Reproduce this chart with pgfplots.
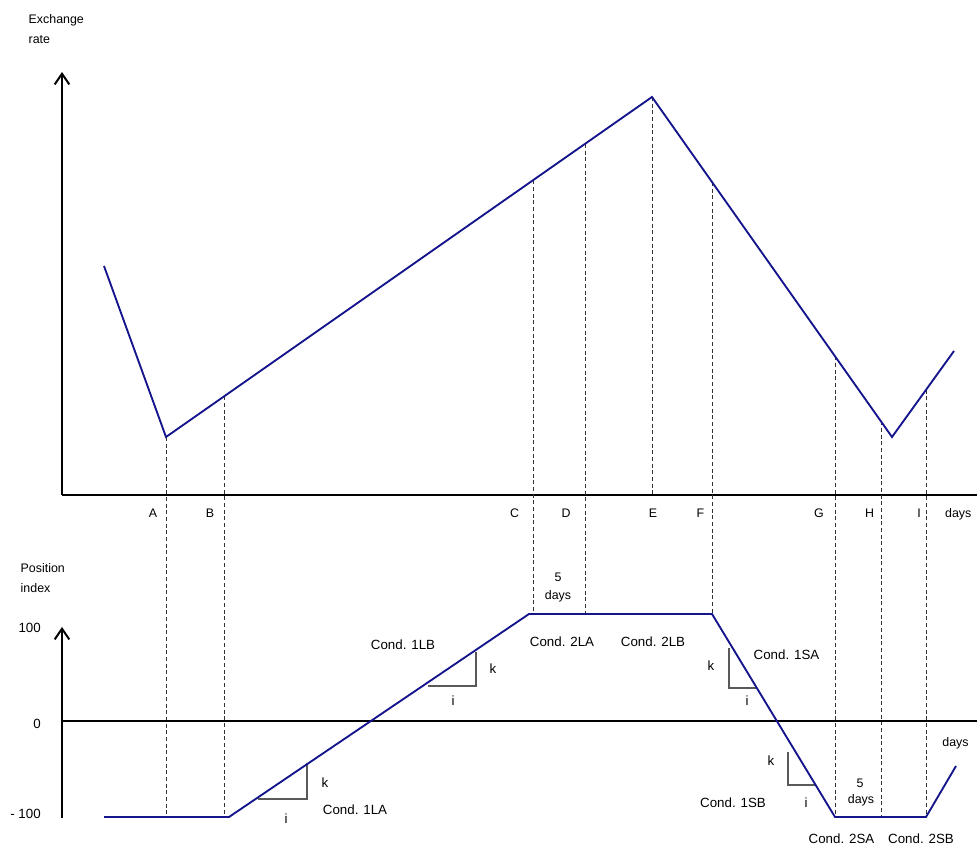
\documentclass[border=0pt]{standalone}
\usepackage{fontspec}
\setmainfont{Liberation Sans}
\usepackage{pgfplots}
\pgfplotsset{compat=1.18}
\usetikzlibrary{arrows.meta}
\definecolor{rateblue}{RGB}{20,20,140}
\newcommand{\fa}{\fontsize{10}{12}\selectfont}
\newcommand{\fb}{\fontsize{9.3}{11}\selectfont}

\begin{document}
\begin{tikzpicture}
\useasboundingbox (0,0) rectangle (732.75pt,633.75pt);

% exchange rate
\begin{axis}[
  at={(46.5pt,262.5pt)}, anchor=south west,
  x=0.75pt, y=0.75pt,
  xmin=0, xmax=928, ymin=0, ymax=423,
  axis lines=left,
  x axis line style={line width=1.5pt, -{Straight Barb[length=8pt,width=11pt]}},
  y axis line style={line width=1.5pt, -{Straight Barb[length=8pt,width=11pt]}},
  xtick={91,148,452.5,504,591,638.5,757,807.5,857},
  xticklabels={A,B,C,D,E,F,G,H,I},
  ytick=\empty, major tick length=0pt,
  xticklabel style={font=\fb, anchor=base, yshift=-17.25pt},
  clip=false,
]
% dashed guides
\addplot[black!80, line width=0.75pt, dash pattern=on 3pt off 2pt] coordinates {(104,58) (104,-322)};
\addplot[black!80, line width=0.75pt, dash pattern=on 3pt off 2pt] coordinates {(162,98.6) (162,-322)};
\addplot[black!80, line width=0.75pt, dash pattern=on 3pt off 2pt] coordinates {(471,314.8) (471,-119)};
\addplot[black!80, line width=0.75pt, dash pattern=on 3pt off 2pt] coordinates {(523,351.1) (523,-119)};
\addplot[black!80, line width=0.75pt, dash pattern=on 3pt off 2pt] coordinates {(590,398) (590,0)};
\addplot[black!80, line width=0.75pt, dash pattern=on 3pt off 2pt] coordinates {(650,313) (650,-119)};
\addplot[black!80, line width=0.75pt, dash pattern=on 3pt off 2pt] coordinates {(773,138.7) (773,-322)};
\addplot[black!80, line width=0.75pt, dash pattern=on 3pt off 2pt] coordinates {(819,73.6) (819,-322)};
\addplot[black!80, line width=0.75pt, dash pattern=on 3pt off 2pt] coordinates {(864,105.2) (864,-322)};
% rate
\addplot[rateblue, line width=1.4pt] coordinates {(42,229) (104,58) (590,398) (830,58) (892,144)};

\node[anchor=base west, font=\fb] at (-38,471.5) {Exchange};
\node[anchor=base west, font=\fb] at (-38,451) {rate};
\node[anchor=base east, font=\fb] at (914,-23) {days};
\end{axis}

% position index
\begin{axis}[
  at={(46.5pt,20.25pt)}, anchor=south west,
  x=0.75pt, y=0.75pt,
  xmin=0, xmax=928, ymin=-97, ymax=94,
  axis x line=middle, axis y line=left,
  x axis line style={line width=1.5pt, -{Straight Barb[length=8pt,width=11pt]}},
  y axis line style={line width=1.5pt, -{Straight Barb[length=8pt,width=11pt]}},
  xtick=\empty,
  ytick={-93,-3,93}, yticklabels={- 100,0,100},
  major tick length=0pt,
  yticklabel style={font=\fa, anchor=east, xshift=-12.4pt},
  clip=false,
]
% slope triangles
\addplot[black!65, line width=0.8pt] coordinates {(196,-78) (245,-78) (245,-42)};
\addplot[black!65, line width=0.8pt] coordinates {(366,35) (414,35) (414,69)};
\addplot[black!65, line width=0.8pt] coordinates {(667,73) (667,33) (694,33)};
\addplot[black!65, line width=0.8pt] coordinates {(726,-31) (726,-64) (753,-64)};
% position
\addplot[rateblue, line width=1.4pt] coordinates {(42,-96) (167,-96) (467,107) (650,107) (773,-96) (864,-96) (894,-45)};

\node[anchor=base west, font=\fb] at (-46,148) {Position};
\node[anchor=base west, font=\fb] at (-46,128) {index};

\node[anchor=base, font=\fb] at (496,139) {5};
\node[anchor=base, font=\fb] at (496,121) {days};

\node[anchor=base, font=\fa] at (293,-94) {Cond. 1LA};
\node[anchor=base, font=\fa] at (263,-66) {k};
\node[anchor=base, font=\fa] at (224,-103) {i};

\node[anchor=base, font=\fa] at (341,71) {Cond. 1LB};
\node[anchor=base, font=\fa] at (431,47) {k};
\node[anchor=base, font=\fa] at (391,15) {i};

\node[anchor=base, font=\fa] at (500,74) {Cond. 2LA};
\node[anchor=base, font=\fa] at (591,74) {Cond. 2LB};

\node[anchor=base, font=\fa] at (649,50) {k};
\node[anchor=base, font=\fa] at (724.5,61) {Cond. 1SA};
\node[anchor=base, font=\fa] at (685,15) {i};

\node[anchor=base, font=\fa] at (709,-45) {k};
\node[anchor=base, font=\fa] at (671,-86) {Cond. 1SB};
\node[anchor=base, font=\fa] at (744,-86) {i};

\node[anchor=base, font=\fb] at (798,-67) {5};
\node[anchor=base, font=\fb] at (799,-83) {days};

\node[anchor=base, font=\fa] at (779.5,-122) {Cond. 2SA};
\node[anchor=base, font=\fa] at (859,-122) {Cond. 2SB};

\node[anchor=base, font=\fb] at (893.5,-26) {days};
\end{axis}
\end{tikzpicture}
\end{document}
